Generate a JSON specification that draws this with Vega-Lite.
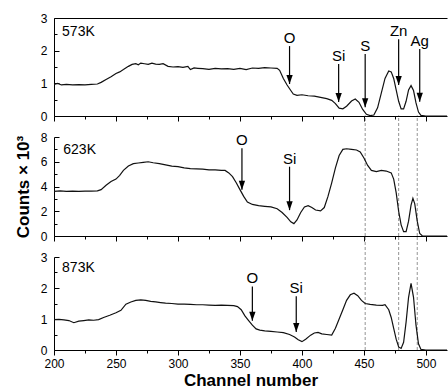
{
  "$schema": "https://vega.github.io/schema/vega-lite/v6.json",
  "padding": {"left": 14, "top": 12, "right": 0, "bottom": 0},
  "bounds": "flush",
  "spacing": 21,
  "config": {
    "view": {"stroke": null},
    "font": "Liberation Sans",
    "axis": {"grid": false, "labelFlush": false, "domainColor": "black", "tickColor": "black", "labelColor": "black", "titleColor": "black", "labelFont": "Liberation Sans", "titleFont": "Liberation Sans", "labelFontSize": 12, "domainWidth": 1, "tickWidth": 1}
  },
  "datasets": {
    "spectra": [
      {"panel":"573K","channel":200,"counts":0.97},{"panel":"573K","channel":203,"counts":1.0},{"panel":"573K","channel":206,"counts":0.95},{"panel":"573K","channel":210,"counts":0.97},{"panel":"573K","channel":215,"counts":0.95},{"panel":"573K","channel":220,"counts":0.96},{"panel":"573K","channel":225,"counts":0.95},{"panel":"573K","channel":230,"counts":0.97},{"panel":"573K","channel":235,"counts":0.98},{"panel":"573K","channel":238,"counts":1.03},{"panel":"573K","channel":242,"counts":1.12},{"panel":"573K","channel":246,"counts":1.2},{"panel":"573K","channel":250,"counts":1.3},{"panel":"573K","channel":253,"counts":1.35},{"panel":"573K","channel":256,"counts":1.42},{"panel":"573K","channel":260,"counts":1.52},{"panel":"573K","channel":263,"counts":1.58},{"panel":"573K","channel":266,"counts":1.6},{"panel":"573K","channel":268,"counts":1.57},{"panel":"573K","channel":270,"counts":1.62},{"panel":"573K","channel":273,"counts":1.6},{"panel":"573K","channel":276,"counts":1.58},{"panel":"573K","channel":279,"counts":1.62},{"panel":"573K","channel":282,"counts":1.59},{"panel":"573K","channel":285,"counts":1.58},{"panel":"573K","channel":288,"counts":1.6},{"panel":"573K","channel":292,"counts":1.52},{"panel":"573K","channel":296,"counts":1.5},{"panel":"573K","channel":300,"counts":1.51},{"panel":"573K","channel":304,"counts":1.49},{"panel":"573K","channel":308,"counts":1.52},{"panel":"573K","channel":310,"counts":1.42},{"panel":"573K","channel":313,"counts":1.47},{"panel":"573K","channel":316,"counts":1.46},{"panel":"573K","channel":320,"counts":1.45},{"panel":"573K","channel":325,"counts":1.43},{"panel":"573K","channel":330,"counts":1.46},{"panel":"573K","channel":335,"counts":1.44},{"panel":"573K","channel":340,"counts":1.45},{"panel":"573K","channel":345,"counts":1.43},{"panel":"573K","channel":350,"counts":1.46},{"panel":"573K","channel":355,"counts":1.42},{"panel":"573K","channel":360,"counts":1.47},{"panel":"573K","channel":365,"counts":1.46},{"panel":"573K","channel":370,"counts":1.48},{"panel":"573K","channel":375,"counts":1.47},{"panel":"573K","channel":380,"counts":1.46},{"panel":"573K","channel":382,"counts":1.4},{"panel":"573K","channel":385,"counts":1.15},{"panel":"573K","channel":388,"counts":0.95},{"panel":"573K","channel":391,"counts":0.78},{"panel":"573K","channel":393,"counts":0.67},{"panel":"573K","channel":396,"counts":0.63},{"panel":"573K","channel":400,"counts":0.65},{"panel":"573K","channel":405,"counts":0.62},{"panel":"573K","channel":410,"counts":0.61},{"panel":"573K","channel":415,"counts":0.57},{"panel":"573K","channel":420,"counts":0.53},{"panel":"573K","channel":424,"counts":0.48},{"panel":"573K","channel":427,"counts":0.38},{"panel":"573K","channel":430,"counts":0.24},{"panel":"573K","channel":433,"counts":0.22},{"panel":"573K","channel":436,"counts":0.3},{"panel":"573K","channel":440,"counts":0.46},{"panel":"573K","channel":443,"counts":0.52},{"panel":"573K","channel":446,"counts":0.42},{"panel":"573K","channel":449,"counts":0.2},{"panel":"573K","channel":452,"counts":0.05},{"panel":"573K","channel":455,"counts":0.01},{"panel":"573K","channel":458,"counts":0.03},{"panel":"573K","channel":461,"counts":0.25},{"panel":"573K","channel":464,"counts":0.7},{"panel":"573K","channel":467,"counts":1.15},{"panel":"573K","channel":470,"counts":1.38},{"panel":"573K","channel":472,"counts":1.35},{"panel":"573K","channel":474,"counts":1.15},{"panel":"573K","channel":476,"counts":0.8},{"panel":"573K","channel":478,"counts":0.45},{"panel":"573K","channel":480,"counts":0.22},{"panel":"573K","channel":482,"counts":0.22},{"panel":"573K","channel":484,"counts":0.45},{"panel":"573K","channel":486,"counts":0.8},{"panel":"573K","channel":488,"counts":0.93},{"panel":"573K","channel":490,"counts":0.78},{"panel":"573K","channel":492,"counts":0.4},{"panel":"573K","channel":494,"counts":0.12},{"panel":"573K","channel":496,"counts":0.02},{"panel":"573K","channel":500,"counts":0},{"panel":"573K","channel":510,"counts":0},{"panel":"573K","channel":517,"counts":0},
      {"panel":"623K","channel":200,"counts":3.6},{"panel":"623K","channel":205,"counts":3.65},{"panel":"623K","channel":210,"counts":3.6},{"panel":"623K","channel":215,"counts":3.62},{"panel":"623K","channel":220,"counts":3.6},{"panel":"623K","channel":225,"counts":3.63},{"panel":"623K","channel":230,"counts":3.62},{"panel":"623K","channel":235,"counts":3.65},{"panel":"623K","channel":238,"counts":3.75},{"panel":"623K","channel":242,"counts":4.1},{"panel":"623K","channel":246,"counts":4.4},{"panel":"623K","channel":250,"counts":4.6},{"panel":"623K","channel":253,"counts":4.9},{"panel":"623K","channel":256,"counts":5.3},{"panel":"623K","channel":260,"counts":5.65},{"panel":"623K","channel":264,"counts":5.85},{"panel":"623K","channel":268,"counts":5.9},{"panel":"623K","channel":272,"counts":5.95},{"panel":"623K","channel":276,"counts":6.0},{"panel":"623K","channel":280,"counts":5.92},{"panel":"623K","channel":285,"counts":5.85},{"panel":"623K","channel":290,"counts":5.75},{"panel":"623K","channel":295,"counts":5.65},{"panel":"623K","channel":300,"counts":5.6},{"panel":"623K","channel":305,"counts":5.5},{"panel":"623K","channel":310,"counts":5.45},{"panel":"623K","channel":315,"counts":5.42},{"panel":"623K","channel":320,"counts":5.4},{"panel":"623K","channel":325,"counts":5.35},{"panel":"623K","channel":330,"counts":5.35},{"panel":"623K","channel":335,"counts":5.3},{"panel":"623K","channel":338,"counts":5.3},{"panel":"623K","channel":341,"counts":5.1},{"panel":"623K","channel":344,"counts":4.8},{"panel":"623K","channel":347,"counts":4.3},{"panel":"623K","channel":350,"counts":3.75},{"panel":"623K","channel":353,"counts":3.2},{"panel":"623K","channel":356,"counts":2.75},{"panel":"623K","channel":360,"counts":2.55},{"panel":"623K","channel":365,"counts":2.45},{"panel":"623K","channel":370,"counts":2.4},{"panel":"623K","channel":375,"counts":2.35},{"panel":"623K","channel":380,"counts":2.2},{"panel":"623K","channel":384,"counts":1.9},{"panel":"623K","channel":388,"counts":1.5},{"panel":"623K","channel":391,"counts":1.15},{"panel":"623K","channel":393.5,"counts":1.0},{"panel":"623K","channel":396,"counts":1.3},{"panel":"623K","channel":399,"counts":1.9},{"panel":"623K","channel":402,"counts":2.35},{"panel":"623K","channel":405,"counts":2.45},{"panel":"623K","channel":408,"counts":2.3},{"panel":"623K","channel":411,"counts":2.1},{"panel":"623K","channel":415,"counts":2.03},{"panel":"623K","channel":418,"counts":2.3},{"panel":"623K","channel":421,"counts":3.2},{"panel":"623K","channel":424,"counts":4.3},{"panel":"623K","channel":427,"counts":5.5},{"panel":"623K","channel":430,"counts":6.5},{"panel":"623K","channel":433,"counts":7.0},{"panel":"623K","channel":436,"counts":7.05},{"panel":"623K","channel":440,"counts":7.0},{"panel":"623K","channel":444,"counts":6.95},{"panel":"623K","channel":447,"counts":6.8},{"panel":"623K","channel":450,"counts":6.3},{"panel":"623K","channel":453,"counts":5.7},{"panel":"623K","channel":456,"counts":5.3},{"panel":"623K","channel":460,"counts":5.2},{"panel":"623K","channel":464,"counts":5.3},{"panel":"623K","channel":468,"counts":5.25},{"panel":"623K","channel":472,"counts":5.1},{"panel":"623K","channel":474,"counts":4.6},{"panel":"623K","channel":476,"counts":3.5},{"panel":"623K","channel":478,"counts":2.0},{"panel":"623K","channel":480,"counts":0.9},{"panel":"623K","channel":482,"counts":0.35},{"panel":"623K","channel":484,"counts":0.35},{"panel":"623K","channel":486,"counts":1.2},{"panel":"623K","channel":488,"counts":2.5},{"panel":"623K","channel":489.5,"counts":3.05},{"panel":"623K","channel":491,"counts":2.6},{"panel":"623K","channel":493,"counts":1.2},{"panel":"623K","channel":495,"counts":0.2},{"panel":"623K","channel":497,"counts":0.02},{"panel":"623K","channel":500,"counts":0},{"panel":"623K","channel":510,"counts":0},{"panel":"623K","channel":517,"counts":0},
      {"panel":"873K","channel":200,"counts":0.98},{"panel":"873K","channel":204,"counts":0.99},{"panel":"873K","channel":208,"counts":0.97},{"panel":"873K","channel":212,"counts":0.95},{"panel":"873K","channel":216,"counts":0.88},{"panel":"873K","channel":220,"counts":0.93},{"panel":"873K","channel":224,"counts":0.95},{"panel":"873K","channel":228,"counts":0.97},{"panel":"873K","channel":232,"counts":0.96},{"panel":"873K","channel":236,"counts":0.98},{"panel":"873K","channel":240,"counts":1.05},{"panel":"873K","channel":245,"counts":1.12},{"panel":"873K","channel":250,"counts":1.2},{"panel":"873K","channel":254,"counts":1.28},{"panel":"873K","channel":258,"counts":1.48},{"panel":"873K","channel":262,"counts":1.55},{"panel":"873K","channel":266,"counts":1.6},{"panel":"873K","channel":270,"counts":1.62},{"panel":"873K","channel":274,"counts":1.6},{"panel":"873K","channel":278,"counts":1.57},{"panel":"873K","channel":282,"counts":1.55},{"panel":"873K","channel":286,"counts":1.53},{"panel":"873K","channel":290,"counts":1.51},{"panel":"873K","channel":295,"counts":1.5},{"panel":"873K","channel":300,"counts":1.48},{"panel":"873K","channel":305,"counts":1.48},{"panel":"873K","channel":310,"counts":1.47},{"panel":"873K","channel":315,"counts":1.46},{"panel":"873K","channel":320,"counts":1.46},{"panel":"873K","channel":325,"counts":1.45},{"panel":"873K","channel":330,"counts":1.44},{"panel":"873K","channel":335,"counts":1.45},{"panel":"873K","channel":340,"counts":1.44},{"panel":"873K","channel":345,"counts":1.43},{"panel":"873K","channel":348,"counts":1.4},{"panel":"873K","channel":351,"counts":1.3},{"panel":"873K","channel":354,"counts":1.1},{"panel":"873K","channel":357,"counts":0.95},{"panel":"873K","channel":360,"counts":0.8},{"panel":"873K","channel":363,"counts":0.68},{"panel":"873K","channel":366,"counts":0.64},{"panel":"873K","channel":370,"counts":0.62},{"panel":"873K","channel":375,"counts":0.6},{"panel":"873K","channel":380,"counts":0.58},{"panel":"873K","channel":385,"counts":0.56},{"panel":"873K","channel":390,"counts":0.5},{"panel":"873K","channel":394,"counts":0.42},{"panel":"873K","channel":397,"counts":0.33},{"panel":"873K","channel":400,"counts":0.27},{"panel":"873K","channel":403,"counts":0.35},{"panel":"873K","channel":407,"counts":0.48},{"panel":"873K","channel":410,"counts":0.55},{"panel":"873K","channel":413,"counts":0.57},{"panel":"873K","channel":416,"counts":0.52},{"panel":"873K","channel":420,"counts":0.5},{"panel":"873K","channel":424,"counts":0.48},{"panel":"873K","channel":427,"counts":0.7},{"panel":"873K","channel":430,"counts":1.0},{"panel":"873K","channel":433,"counts":1.3},{"panel":"873K","channel":436,"counts":1.6},{"panel":"873K","channel":439,"counts":1.78},{"panel":"873K","channel":442,"counts":1.83},{"panel":"873K","channel":445,"counts":1.75},{"panel":"873K","channel":448,"counts":1.6},{"panel":"873K","channel":451,"counts":1.5},{"panel":"873K","channel":455,"counts":1.47},{"panel":"873K","channel":460,"counts":1.45},{"panel":"873K","channel":465,"counts":1.44},{"panel":"873K","channel":467,"counts":1.46},{"panel":"873K","channel":470,"counts":1.3},{"panel":"873K","channel":472,"counts":1.05},{"panel":"873K","channel":474,"counts":0.7},{"panel":"873K","channel":476,"counts":0.35},{"panel":"873K","channel":478,"counts":0.1},{"panel":"873K","channel":480,"counts":0.05},{"panel":"873K","channel":482,"counts":0.25},{"panel":"873K","channel":484,"counts":0.9},{"panel":"873K","channel":486,"counts":1.7},{"panel":"873K","channel":488,"counts":2.15},{"panel":"873K","channel":490,"counts":1.7},{"panel":"873K","channel":492,"counts":0.8},{"panel":"873K","channel":494,"counts":0.2},{"panel":"873K","channel":496,"counts":0.02},{"panel":"873K","channel":500,"counts":0},{"panel":"873K","channel":510,"counts":0},{"panel":"873K","channel":517,"counts":0}
    ],
    "arrows": [
      {"panel":"573K","label":"O","x":390,"top":2.14,"tip":0.98},
      {"panel":"573K","label":"Si","x":429.6,"top":1.59,"tip":0.43},
      {"panel":"573K","label":"S","x":451,"top":1.9,"tip":0.27},
      {"panel":"573K","label":"Zn","x":478,"top":2.35,"tip":0.95},
      {"panel":"573K","label":"Ag","x":495,"top":2.05,"tip":0.44},
      {"panel":"623K","label":"O","x":351.6,"top":7.1,"tip":3.74},
      {"panel":"623K","label":"Si","x":390,"top":5.6,"tip":2.09},
      {"panel":"873K","label":"O","x":360,"top":2.05,"tip":0.94},
      {"panel":"873K","label":"Si","x":395.4,"top":1.73,"tip":0.58}
    ],
    "panels": [
      {"panel":"573K","x":206.5,"y":2.45},
      {"panel":"623K","x":207.5,"y":6.65},
      {"panel":"873K","x":206.5,"y":2.53}
    ],
    "dashes": [{"x":451},{"x":478},{"x":493}]
  },
  "vconcat": [
    {
      "width": 393, "height": 98,
      "resolve": {"axis": {"x": "independent", "y": "independent"}},
      "layer": [
        {
          "data": {"name": "spectra"},
          "transform": [{"filter": "datum.panel === '573K'"}],
          "mark": {"type": "line", "color": "#111", "strokeWidth": 1.2},
          "encoding": {
            "x": {"field": "channel", "type": "quantitative", "scale": {"domain": [200, 517], "nice": false, "zero": false},
                  "axis": {"values": [200,225,250,275,300,325,350,375,400,425,450,475,500], "labels": false, "title": null,
                           "tickSize": {"condition": {"test": "datum.value % 50 === 0", "value": 5}, "value": 3}}},
            "y": {"field": "counts", "type": "quantitative", "scale": {"domain": [0, 3], "nice": false},
                  "axis": {"values": [0,0.5,1,1.5,2,2.5,3], "format": ".0f", "labelExpr": "datum.value % 1 === 0 ? datum.label : ''", "title": null,
                           "tickSize": {"condition": {"test": "datum.value % 1 === 0", "value": -5}, "value": -3}, "labelPadding": 12}}
          }
        },
        {
          "data": {"name": "panels"},
          "transform": [{"filter": "datum.panel === '573K'"}],
          "mark": {"type": "text", "align": "left", "baseline": "alphabetic", "fontSize": 14, "color": "black"},
          "encoding": {
            "x": {"field": "x", "type": "quantitative", "axis": {"orient": "top", "labels": false, "ticks": false, "title": null, "domain": true}},
            "y": {"field": "y", "type": "quantitative", "axis": null},
            "text": {"field": "panel"}
          }
        },
        {
          "data": {"name": "arrows"},
          "transform": [{"filter": "datum.panel === '573K'"}],
          "mark": {"type": "rule", "color": "black", "strokeWidth": 1.2},
          "encoding": {
            "x": {"field": "x", "type": "quantitative", "axis": null},
            "y": {"field": "top", "type": "quantitative", "axis": null},
            "y2": {"field": "tip"}
          }
        },
        {
          "data": {"name": "arrows"},
          "transform": [{"filter": "datum.panel === '573K'"}],
          "mark": {"type": "point", "shape": "M-0.35,-1L0.35,-1L0,0Z", "filled": true, "color": "black", "size": 324, "opacity": 1, "strokeWidth": 0},
          "encoding": {
            "x": {"field": "x", "type": "quantitative", "axis": null},
            "y": {"field": "tip", "type": "quantitative", "axis": null}
          }
        },
        {
          "data": {"name": "arrows"},
          "transform": [{"filter": "datum.panel === '573K'"}],
          "mark": {"type": "text", "align": "center", "baseline": "alphabetic", "fontSize": 15, "dy": -3, "color": "black"},
          "encoding": {
            "x": {"field": "x", "type": "quantitative", "axis": null},
            "y": {"field": "top", "type": "quantitative", "axis": null},
            "text": {"field": "label"}
          }
        }
      ]
    },
    {
      "width": 393, "height": 99,
      "resolve": {"axis": {"x": "independent", "y": "independent"}},
      "layer": [
        {
          "data": {"name": "dashes"},
          "mark": {"type": "rule", "color": "#777", "strokeWidth": 0.8, "strokeDash": [3, 2]},
          "encoding": {
            "x": {"field": "x", "type": "quantitative", "axis": null},
            "y": {"datum": 0, "type": "quantitative", "axis": null},
            "y2": {"datum": 9.75}
          }
        },
        {
          "data": {"name": "spectra"},
          "transform": [{"filter": "datum.panel === '623K'"}],
          "mark": {"type": "line", "color": "#111", "strokeWidth": 1.2},
          "encoding": {
            "x": {"field": "channel", "type": "quantitative", "scale": {"domain": [200, 517], "nice": false, "zero": false},
                  "axis": {"values": [200,225,250,275,300,325,350,375,400,425,450,475,500], "labels": false, "title": null,
                           "tickSize": {"condition": {"test": "datum.value % 50 === 0", "value": 5}, "value": 3}}},
            "y": {"field": "counts", "type": "quantitative", "scale": {"domain": [0, 8], "nice": false},
                  "axis": {"values": [0,1,2,3,4,5,6,7,8], "format": ".0f", "labelExpr": "datum.value % 2 === 0 ? datum.label : ''",
                           "tickSize": {"condition": {"test": "datum.value % 2 === 0", "value": -5}, "value": -3}, "labelPadding": 12,
                           "title": "Counts × 10³", "titleFontSize": 17, "titleFontWeight": "bold", "titlePadding": 8}}
          }
        },
        {
          "data": {"name": "panels"},
          "transform": [{"filter": "datum.panel === '623K'"}],
          "mark": {"type": "text", "align": "left", "baseline": "alphabetic", "fontSize": 14, "color": "black"},
          "encoding": {
            "x": {"field": "x", "type": "quantitative", "axis": null},
            "y": {"field": "y", "type": "quantitative", "axis": null},
            "text": {"field": "panel"}
          }
        },
        {
          "data": {"name": "arrows"},
          "transform": [{"filter": "datum.panel === '623K'"}],
          "mark": {"type": "rule", "color": "black", "strokeWidth": 1.2},
          "encoding": {
            "x": {"field": "x", "type": "quantitative", "axis": null},
            "y": {"field": "top", "type": "quantitative", "axis": null},
            "y2": {"field": "tip"}
          }
        },
        {
          "data": {"name": "arrows"},
          "transform": [{"filter": "datum.panel === '623K'"}],
          "mark": {"type": "point", "shape": "M-0.35,-1L0.35,-1L0,0Z", "filled": true, "color": "black", "size": 324, "opacity": 1, "strokeWidth": 0},
          "encoding": {
            "x": {"field": "x", "type": "quantitative", "axis": null},
            "y": {"field": "tip", "type": "quantitative", "axis": null}
          }
        },
        {
          "data": {"name": "arrows"},
          "transform": [{"filter": "datum.panel === '623K'"}],
          "mark": {"type": "text", "align": "center", "baseline": "alphabetic", "fontSize": 15, "dy": -3, "color": "black"},
          "encoding": {
            "x": {"field": "x", "type": "quantitative", "axis": null},
            "y": {"field": "top", "type": "quantitative", "axis": null},
            "text": {"field": "label"}
          }
        }
      ]
    },
    {
      "width": 393, "height": 93,
      "resolve": {"axis": {"x": "independent", "y": "independent"}},
      "layer": [
        {
          "data": {"name": "dashes"},
          "mark": {"type": "rule", "color": "#777", "strokeWidth": 0.8, "strokeDash": [3, 2]},
          "encoding": {
            "x": {"field": "x", "type": "quantitative", "axis": null},
            "y": {"datum": 0, "type": "quantitative", "axis": null},
            "y2": {"datum": 3.68}
          }
        },
        {
          "data": {"name": "spectra"},
          "transform": [{"filter": "datum.panel === '873K'"}],
          "mark": {"type": "line", "color": "#111", "strokeWidth": 1.2},
          "encoding": {
            "x": {"field": "channel", "type": "quantitative", "scale": {"domain": [200, 517], "nice": false, "zero": false},
                  "axis": {"values": [200,225,250,275,300,325,350,375,400,425,450,475,500], "labelExpr": "datum.value % 50 === 0 ? datum.label : ''",
                           "tickSize": {"condition": {"test": "datum.value % 50 === 0", "value": 5}, "value": 3}, "labelPadding": 3,
                           "title": "Channel number", "titleFontSize": 17, "titleFontWeight": "bold", "titlePadding": 3}},
            "y": {"field": "counts", "type": "quantitative", "scale": {"domain": [0, 3], "nice": false},
                  "axis": {"values": [0,0.5,1,1.5,2,2.5,3], "format": ".0f", "labelExpr": "datum.value % 1 === 0 ? datum.label : ''", "title": null,
                           "tickSize": {"condition": {"test": "datum.value % 1 === 0", "value": -5}, "value": -3}, "labelPadding": 12}}
          }
        },
        {
          "data": {"name": "panels"},
          "transform": [{"filter": "datum.panel === '873K'"}],
          "mark": {"type": "text", "align": "left", "baseline": "alphabetic", "fontSize": 14, "color": "black"},
          "encoding": {
            "x": {"field": "x", "type": "quantitative", "axis": null},
            "y": {"field": "y", "type": "quantitative", "axis": null},
            "text": {"field": "panel"}
          }
        },
        {
          "data": {"name": "arrows"},
          "transform": [{"filter": "datum.panel === '873K'"}],
          "mark": {"type": "rule", "color": "black", "strokeWidth": 1.2},
          "encoding": {
            "x": {"field": "x", "type": "quantitative", "axis": null},
            "y": {"field": "top", "type": "quantitative", "axis": null},
            "y2": {"field": "tip"}
          }
        },
        {
          "data": {"name": "arrows"},
          "transform": [{"filter": "datum.panel === '873K'"}],
          "mark": {"type": "point", "shape": "M-0.35,-1L0.35,-1L0,0Z", "filled": true, "color": "black", "size": 324, "opacity": 1, "strokeWidth": 0},
          "encoding": {
            "x": {"field": "x", "type": "quantitative", "axis": null},
            "y": {"field": "tip", "type": "quantitative", "axis": null}
          }
        },
        {
          "data": {"name": "arrows"},
          "transform": [{"filter": "datum.panel === '873K'"}],
          "mark": {"type": "text", "align": "center", "baseline": "alphabetic", "fontSize": 15, "dy": -3, "color": "black"},
          "encoding": {
            "x": {"field": "x", "type": "quantitative", "axis": null},
            "y": {"field": "top", "type": "quantitative", "axis": null},
            "text": {"field": "label"}
          }
        }
      ]
    }
  ]
}
